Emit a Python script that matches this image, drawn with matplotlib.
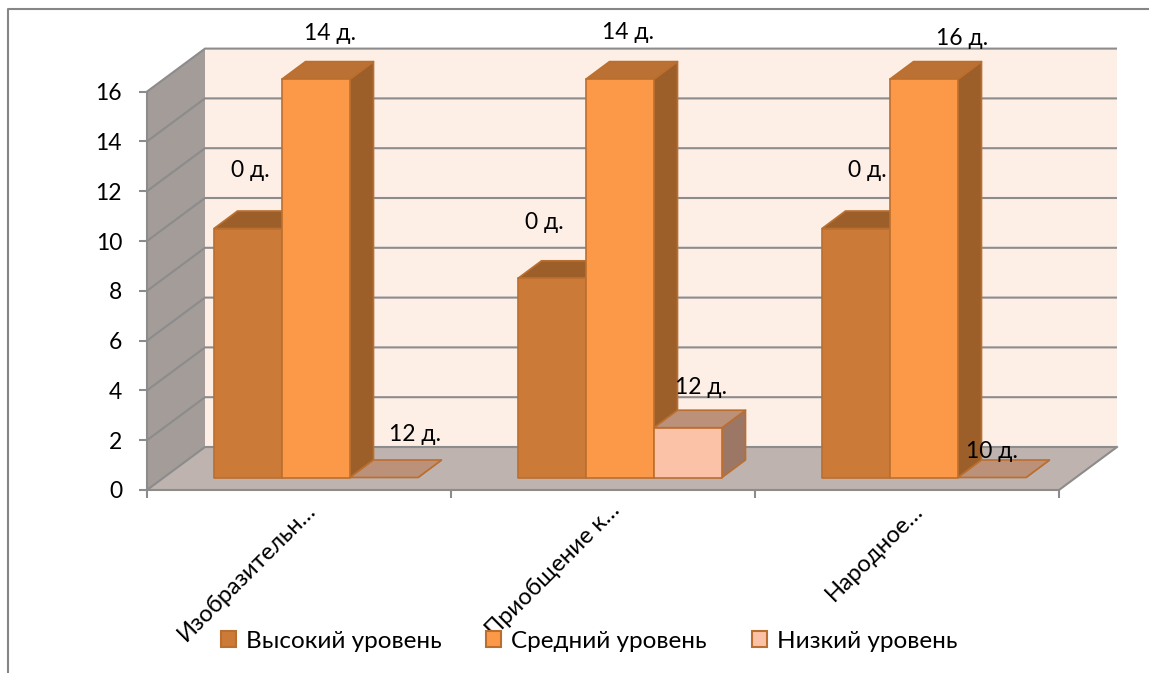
import matplotlib
matplotlib.use('Agg')
import matplotlib.pyplot as plt
from matplotlib.patches import Patch, Polygon
from matplotlib.lines import Line2D

plt.rcParams['font.family'] = ['Lato', 'Open Sans', 'DejaVu Sans']

# data
categories = ['Изобразительн...', 'Приобщение к...', 'Народное...']
levels = ['Высокий уровень', 'Средний уровень', 'Низкий уровень']
high_values = [10, 8, 10]
mid_values = [16, 16, 16]
low_values = [0, 2, 0]
high_labels = ['0 д.', '0 д.', '0 д.']
mid_labels = ['14 д.', '14 д.', '16 д.']
low_labels = ['12 д.', '12 д.', '10 д.']
y_ticks = [0, 2, 4, 6, 8, 10, 12, 14, 16]

W, H = 1149, 673
X_UNIT = 304.0   # px per category
Y_UNIT = 24.9    # px per value
X0, Y0 = 147, 490

# depth of the fake 3d box, in data units
DEPTH_X = 58 / X_UNIT
DEPTH_Y = 43 / Y_UNIT
# bars stand a bit inside of the box
BAR_SHIFT_X = 17 / X_UNIT
BAR_SHIFT_Y = 12.5 / Y_UNIT
BAR_DX = 23.5 / X_UNIT
BAR_DY = 17.5 / Y_UNIT
BAR_W = 68 / X_UNIT

GRID = '#8c8c8c'
EDGE = '#bb6f2f'
SERIES = [
    {'front': '#cb7a37', 'top': '#9c5f2a', 'side': '#9c5f2a'},
    {'front': '#fb9948', 'top': '#bb7133', 'side': '#9c5f2a'},
    {'front': '#fcc2a8', 'top': '#bc917a', 'side': '#9d7766'},
]


def draw_bar(ax, x, value, colors, z):
    """one fake 3d bar: front, top and right side"""
    x1 = x + BAR_W
    y0 = BAR_SHIFT_Y
    y1 = y0 + value
    front = [(x, y0), (x1, y0), (x1, y1), (x, y1)]
    top = [(x, y1), (x1, y1), (x1 + BAR_DX, y1 + BAR_DY), (x + BAR_DX, y1 + BAR_DY)]
    side = [(x1, y0), (x1 + BAR_DX, y0 + BAR_DY), (x1 + BAR_DX, y1 + BAR_DY), (x1, y1)]
    ax.add_patch(Polygon(side, fc=colors['side'], ec=EDGE, lw=1.2, zorder=z, joinstyle='round'))
    ax.add_patch(Polygon(top, fc=colors['top'], ec=EDGE, lw=1.2, zorder=z, joinstyle='round'))
    if value > 0:
        ax.add_patch(Polygon(front, fc=colors['front'], ec=EDGE, lw=1.2, zorder=z + 0.1, joinstyle='round'))


fig = plt.figure(figsize=(W / 100, H / 100), dpi=100)
ax = fig.add_axes([0, 0, 1, 1])
ax.set_xlim(-X0 / X_UNIT, (W - X0) / X_UNIT)
ax.set_ylim(-(H - Y0) / Y_UNIT, Y0 / Y_UNIT)
ax.patch.set_alpha(0)

n = len(categories)
top_val = y_ticks[-1]

# walls and floor
ax.add_patch(Polygon([(DEPTH_X, DEPTH_Y), (n + DEPTH_X, DEPTH_Y), (n + DEPTH_X, top_val + DEPTH_Y), (DEPTH_X, top_val + DEPTH_Y)],
                     fc='#fdeee6', ec='none', zorder=1))
ax.add_patch(Polygon([(0, 0), (DEPTH_X, DEPTH_Y), (DEPTH_X, top_val + DEPTH_Y), (0, top_val)],
                     fc='#a39c98', ec='none', zorder=1))
ax.add_patch(Polygon([(0, 0), (n, 0), (n + DEPTH_X, DEPTH_Y), (DEPTH_X, DEPTH_Y)],
                     fc='#beb3ae', ec='none', zorder=1))

# gridlines go along the side wall and the back wall
for v in y_ticks:
    ax.plot([0, DEPTH_X, n + DEPTH_X], [v, v + DEPTH_Y, v + DEPTH_Y], color=GRID, lw=1.5, zorder=2,
            solid_joinstyle='miter', solid_capstyle='butt')
ax.plot([n, n + DEPTH_X], [0, DEPTH_Y], color=GRID, lw=1.5, zorder=2)

# bars
for i in range(n):
    start = i + 0.5 + BAR_SHIFT_X - 1.5 * BAR_W
    for j, vals in enumerate([high_values, mid_values, low_values]):
        draw_bar(ax, start + j * BAR_W, vals[i], SERIES[j], 3 + i + j * 0.2)

# data labels, nudged by hand in pixels from the bar's front top centre
high_off = [(2, 58), (-8, 56), (11, 58)]
mid_off = [(14, 46), (8, 47), (38, 41)]
low_off = [(31, 43), (13, 40), (0, 26)]
for i in range(n):
    start = i + 0.5 + BAR_SHIFT_X - 1.5 * BAR_W
    rows = [(high_values, high_labels, high_off), (mid_values, mid_labels, mid_off), (low_values, low_labels, low_off)]
    for j, (vals, labs, offs) in enumerate(rows):
        ax.annotate(labs[i], (start + (j + 0.5) * BAR_W, vals[i] + BAR_SHIFT_Y),
                    xytext=(offs[i][0] * 0.72, offs[i][1] * 0.72), textcoords='offset points',
                    ha='center', va='center', fontsize=16.5, color='black', zorder=20)

# axes lines + ticks
for s in ['top', 'right']:
    ax.spines[s].set_visible(False)
ax.spines['left'].set_position(('data', 0))
ax.spines['left'].set_bounds(0, top_val)
ax.spines['bottom'].set_position(('data', 0))
ax.spines['bottom'].set_bounds(0, n)
for s in ['left', 'bottom']:
    ax.spines[s].set_color(GRID)
    ax.spines[s].set_linewidth(1.5)
    ax.spines[s].set_zorder(2.5)
ax.set_yticks(y_ticks)
ax.set_xticks(range(n + 1))
ax.set_xticklabels([])
ax.tick_params(axis='y', length=6, width=1.5, color=GRID, labelsize=16.5, pad=12)
ax.tick_params(axis='x', length=6, width=1.5, color=GRID)

# rotated category names
for i, name in enumerate(categories):
    ax.annotate(name.replace('...', '…'), (i + 0.5, 0), xytext=(4, -7), textcoords='offset points',
                rotation=45, rotation_mode='anchor', ha='right', va='top', fontsize=17, zorder=20)

# outer frame of the chart area, no right side in the source
ax.add_line(Line2D([8 / W, 8 / W, 1], [0, 1 - 9 / H, 1 - 9 / H], transform=fig.transFigure,
                   color='#868686', lw=1.5, zorder=0))

handles = [Patch(fc=SERIES[j]['front'], ec=EDGE, lw=1.5) for j in range(3)]
ax.legend(handles, levels, ncol=3, loc='center', bbox_to_anchor=(589 / W, 1 - 641 / H), bbox_transform=fig.transFigure,
          frameon=False, fontsize=17.5, handlelength=0.62, handleheight=0.62, handletextpad=0.4, columnspacing=1.85).set_zorder(30)

fig.savefig('out.png', dpi=100)
